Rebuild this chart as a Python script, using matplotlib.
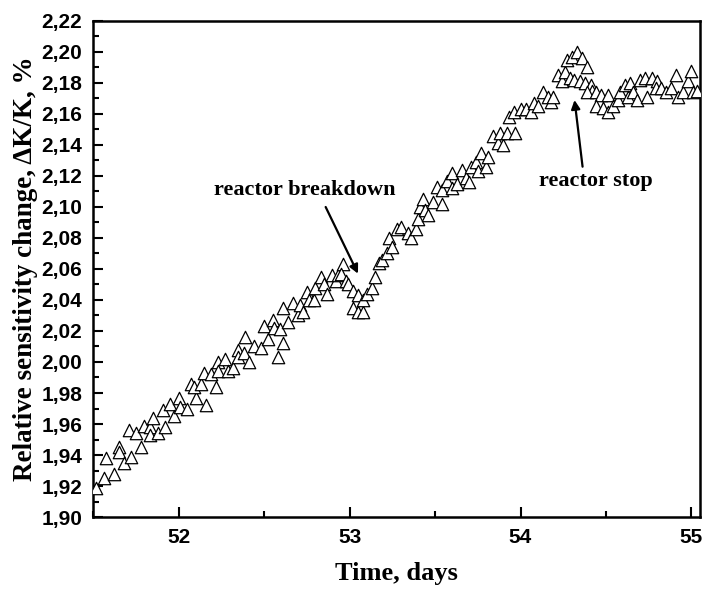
import matplotlib
matplotlib.use('Agg')
from matplotlib import pyplot as plt
from matplotlib.ticker import MultipleLocator, FuncFormatter

# time (days) and relative sensitivity change (%)
days = [51.515, 51.563, 51.573, 51.62, 51.65, 51.65, 51.68, 51.71, 51.72, 51.75,
        51.78, 51.80, 51.83, 51.83, 51.85, 51.88, 51.91, 51.92, 51.95, 51.97,
        52.00, 52.01, 52.05, 52.07, 52.10, 52.09, 52.13, 52.16, 52.15, 52.19,
        52.22, 52.23, 52.23, 52.27, 52.29, 52.32, 52.35, 52.35, 52.39, 52.38,
        52.41, 52.44, 52.48, 52.50, 52.52, 52.55, 52.56, 52.58, 52.59, 52.61,
        52.64, 52.61, 52.67, 52.70, 52.71, 52.73, 52.75, 52.76, 52.79, 52.80,
        52.83, 52.85, 52.87, 52.90, 52.92, 52.93, 52.96, 52.95, 52.98, 52.99,
        53.02, 53.02, 53.05, 53.05, 53.08, 53.08, 53.10, 53.13, 53.15, 53.17,
        53.19, 53.22, 53.23, 53.25, 53.28, 53.30, 53.34, 53.36, 53.39, 53.40,
        53.41, 53.43, 53.44, 53.46, 53.49, 53.51, 53.54, 53.54, 53.57, 53.60,
        53.60, 53.63, 53.66, 53.68, 53.70, 53.71, 53.74, 53.75, 53.77, 53.80,
        53.81, 53.84, 53.87, 53.88, 53.90, 53.92, 53.97, 53.93, 53.96, 54.00,
        54.03, 54.06, 54.08, 54.10, 54.13, 54.16, 54.18, 54.19, 54.22, 54.24,
        54.26, 54.27, 54.30, 54.33, 54.36, 54.39, 54.29, 54.31, 54.35, 54.38,
        54.41, 54.42, 54.39, 54.44, 54.47, 54.51, 54.44, 54.48, 54.51, 54.54,
        54.57, 54.58, 54.61, 54.64, 54.63, 54.66, 54.68, 54.70, 54.73, 54.74,
        54.77, 54.80, 54.79, 54.82, 54.85, 54.88, 54.91, 54.92, 54.95, 54.98,
        55.00, 55.01, 55.03]
change = [1.919, 1.925, 1.938, 1.928, 1.945, 1.942, 1.935, 1.956, 1.939, 1.954,
          1.945, 1.959, 1.958, 1.953, 1.964, 1.954, 1.969, 1.958, 1.973, 1.965,
          1.977, 1.971, 1.970, 1.986, 1.977, 1.984, 1.986, 1.972, 1.993, 1.992,
          1.984, 2.000, 1.994, 2.002, 1.994, 1.996, 2.008, 2.003, 2.016, 2.006,
          2.000, 2.010, 2.009, 2.023, 2.015, 2.027, 2.022, 2.003, 2.021, 2.012,
          2.026, 2.035, 2.038, 2.030, 2.037, 2.032, 2.045, 2.040, 2.040, 2.048,
          2.055, 2.050, 2.044, 2.056, 2.052, 2.056, 2.063, 2.057, 2.052, 2.050,
          2.035, 2.046, 2.043, 2.032, 2.032, 2.040, 2.044, 2.048, 2.055, 2.064,
          2.066, 2.070, 2.080, 2.074, 2.086, 2.087, 2.083, 2.080, 2.086, 2.092,
          2.100, 2.105, 2.098, 2.095, 2.103, 2.113, 2.111, 2.102, 2.117, 2.122,
          2.112, 2.115, 2.124, 2.119, 2.116, 2.126, 2.129, 2.123, 2.135, 2.126,
          2.132, 2.146, 2.141, 2.148, 2.140, 2.148, 2.148, 2.158, 2.161, 2.163,
          2.163, 2.161, 2.167, 2.165, 2.174, 2.171, 2.168, 2.171, 2.185, 2.181,
          2.187, 2.195, 2.197, 2.200, 2.196, 2.190, 2.183, 2.182, 2.181, 2.180,
          2.179, 2.175, 2.174, 2.174, 2.172, 2.172, 2.165, 2.164, 2.161, 2.165,
          2.169, 2.174, 2.179, 2.180, 2.171, 2.174, 2.169, 2.182, 2.183, 2.171,
          2.183, 2.181, 2.177, 2.177, 2.174, 2.177, 2.185, 2.171, 2.174, 2.181,
          2.188, 2.174, 2.175]

fig = plt.figure(figsize=(7.06, 5.91), dpi=100)
ax = fig.add_axes([0.132, 0.1252, 0.8595, 0.8393])
ax.scatter(days, change, marker='^', s=80, facecolors='white',
           edgecolors='black', linewidths=0.9, zorder=3)

ax.set_xlim(51.5, 55.05)
ax.set_ylim(1.90, 2.22)
ax.xaxis.set_major_locator(MultipleLocator(1))
ax.xaxis.set_minor_locator(MultipleLocator(0.5))
ax.yaxis.set_major_locator(MultipleLocator(0.02))
ax.yaxis.set_minor_locator(MultipleLocator(0.01))
ax.xaxis.set_major_formatter(FuncFormatter(lambda v, p: '%d' % round(v)))
ax.yaxis.set_major_formatter(FuncFormatter(lambda v, p: ('%.2f' % v).replace('.', ',')))
ax.tick_params(which='both', direction='in', width=1.5)
ax.tick_params(which='major', length=7, labelsize=15, pad=8)
ax.tick_params(which='minor', length=4)
for lbl in ax.get_xticklabels() + ax.get_yticklabels():
    lbl.set_fontfamily('Liberation Sans')
    lbl.set_fontweight('bold')
for sp in ax.spines.values():
    sp.set_linewidth(1.8)

ax.set_xlabel('Time, days', fontfamily='Liberation Serif', fontweight='bold',
              fontsize=19, labelpad=11)
ax.set_ylabel('Relative sensitivity change, \u0394K/K, %', fontfamily='Liberation Serif',
              fontweight='bold', fontsize=19.5, labelpad=2)

txt = dict(fontfamily='Liberation Serif', fontweight='bold', fontsize=16,
           ha='center', va='center')
arrow = dict(arrowstyle='-|>', color='black', lw=1.6, shrinkA=0, shrinkB=0,
             mutation_scale=13)
ax.text(52.74, 2.111, 'reactor breakdown', **txt)
ax.annotate('', xy=(53.049, 2.057), xytext=(52.86, 2.100), arrowprops=arrow)
ax.text(54.44, 2.117, 'reactor stop', **txt)
ax.annotate('', xy=(54.316, 2.169), xytext=(54.363, 2.126), arrowprops=arrow)

fig.savefig('out.png', dpi=100)
